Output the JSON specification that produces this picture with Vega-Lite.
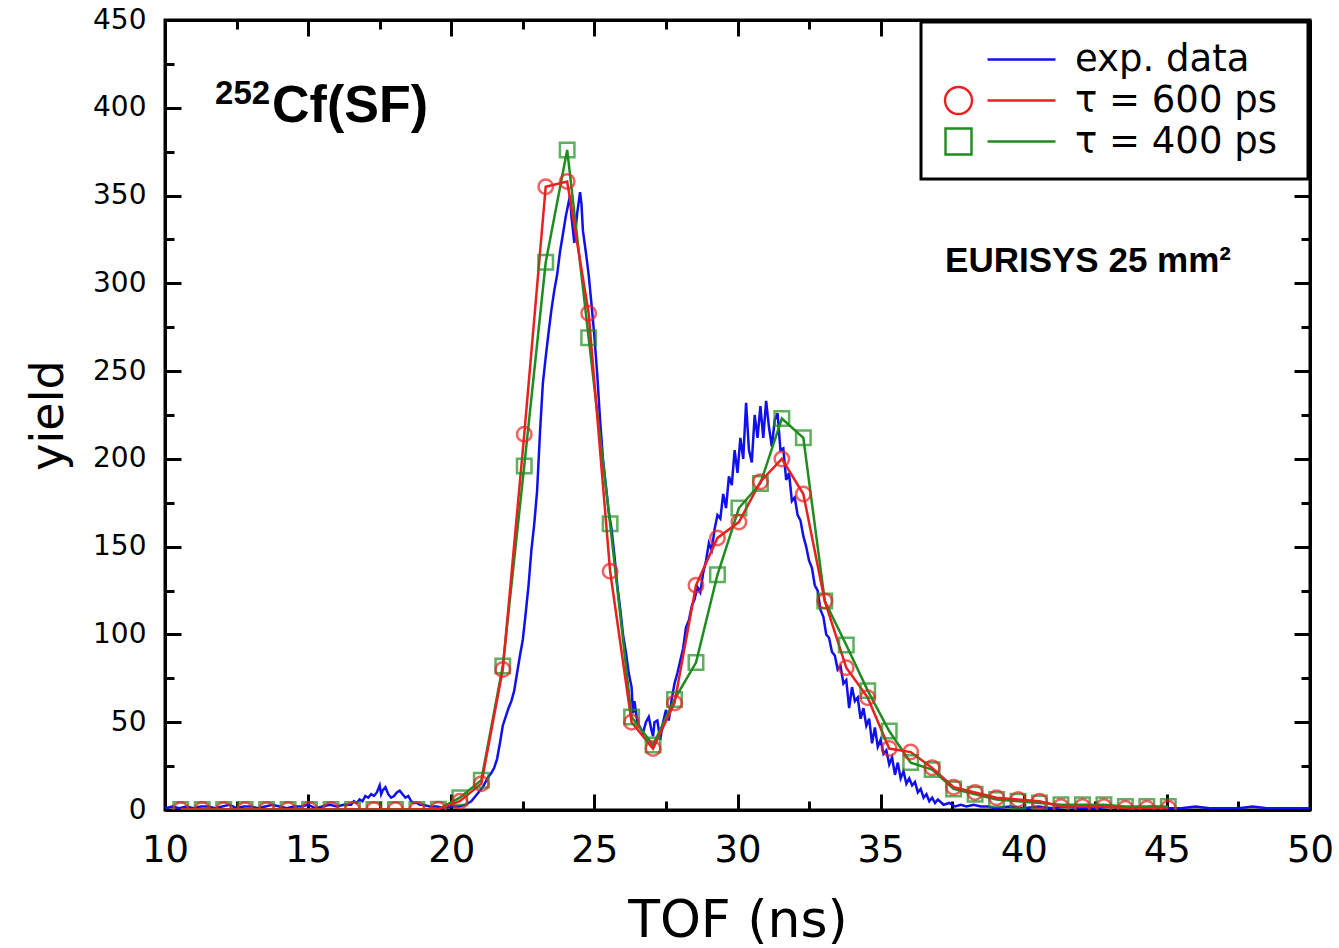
{
  "$schema": "https://vega.github.io/schema/vega-lite/v6.json",
  "width": 1145,
  "height": 790,
  "autosize": {"type": "none"},
  "padding": {"left": 165, "top": 20, "right": 29, "bottom": 138},
  "background": "white",
  "config": {"view": {"stroke": "black", "strokeWidth": 3}, "font": "DejaVu Sans"},
  "data": {"values": [
    {"s":"exp. data","t":10.0,"y":1},{"s":"exp. data","t":10.25,"y":2},{"s":"exp. data","t":10.5,"y":1},{"s":"exp. data","t":10.75,"y":2},{"s":"exp. data","t":11.0,"y":1},{"s":"exp. data","t":11.25,"y":2},{"s":"exp. data","t":11.5,"y":2},{"s":"exp. data","t":11.75,"y":1},{"s":"exp. data","t":12.0,"y":2},{"s":"exp. data","t":12.25,"y":3},{"s":"exp. data","t":12.5,"y":1},{"s":"exp. data","t":12.75,"y":2},{"s":"exp. data","t":13.0,"y":2},{"s":"exp. data","t":13.25,"y":1},{"s":"exp. data","t":13.5,"y":2},{"s":"exp. data","t":13.75,"y":3},{"s":"exp. data","t":14.0,"y":2},{"s":"exp. data","t":14.25,"y":1},{"s":"exp. data","t":14.5,"y":2},{"s":"exp. data","t":14.75,"y":2},{"s":"exp. data","t":15.0,"y":3},{"s":"exp. data","t":15.25,"y":1},{"s":"exp. data","t":15.5,"y":2},{"s":"exp. data","t":15.75,"y":3},{"s":"exp. data","t":16.0,"y":2},{"s":"exp. data","t":16.25,"y":3},{"s":"exp. data","t":16.5,"y":3},{"s":"exp. data","t":16.6,"y":5},{"s":"exp. data","t":16.7,"y":4},{"s":"exp. data","t":16.8,"y":6},{"s":"exp. data","t":16.9,"y":5},{"s":"exp. data","t":17.0,"y":8},{"s":"exp. data","t":17.1,"y":7},{"s":"exp. data","t":17.2,"y":9},{"s":"exp. data","t":17.3,"y":8},{"s":"exp. data","t":17.4,"y":10},{"s":"exp. data","t":17.5,"y":14},{"s":"exp. data","t":17.55,"y":9},{"s":"exp. data","t":17.6,"y":11},{"s":"exp. data","t":17.7,"y":13},{"s":"exp. data","t":17.8,"y":9},{"s":"exp. data","t":17.9,"y":7},{"s":"exp. data","t":18.0,"y":8},{"s":"exp. data","t":18.1,"y":10},{"s":"exp. data","t":18.2,"y":11},{"s":"exp. data","t":18.3,"y":9},{"s":"exp. data","t":18.4,"y":7},{"s":"exp. data","t":18.5,"y":8},{"s":"exp. data","t":18.6,"y":5},{"s":"exp. data","t":18.7,"y":4},{"s":"exp. data","t":18.8,"y":4},{"s":"exp. data","t":18.9,"y":3},{"s":"exp. data","t":19.0,"y":3},{"s":"exp. data","t":19.25,"y":2},{"s":"exp. data","t":19.5,"y":2},{"s":"exp. data","t":19.75,"y":1},{"s":"exp. data","t":20.0,"y":2},{"s":"exp. data","t":20.25,"y":2},{"s":"exp. data","t":20.5,"y":3},{"s":"exp. data","t":20.6,"y":4},{"s":"exp. data","t":20.7,"y":5},{"s":"exp. data","t":20.8,"y":7},{"s":"exp. data","t":20.9,"y":9},{"s":"exp. data","t":21.0,"y":11},{"s":"exp. data","t":21.1,"y":13},{"s":"exp. data","t":21.2,"y":16},{"s":"exp. data","t":21.3,"y":19},{"s":"exp. data","t":21.4,"y":21},{"s":"exp. data","t":21.5,"y":24},{"s":"exp. data","t":21.6,"y":29},{"s":"exp. data","t":21.7,"y":38},{"s":"exp. data","t":21.8,"y":48},{"s":"exp. data","t":21.9,"y":53},{"s":"exp. data","t":22.0,"y":58},{"s":"exp. data","t":22.1,"y":62},{"s":"exp. data","t":22.2,"y":68},{"s":"exp. data","t":22.3,"y":78},{"s":"exp. data","t":22.4,"y":88},{"s":"exp. data","t":22.5,"y":97},{"s":"exp. data","t":22.6,"y":112},{"s":"exp. data","t":22.7,"y":128},{"s":"exp. data","t":22.8,"y":148},{"s":"exp. data","t":22.9,"y":163},{"s":"exp. data","t":23.0,"y":182},{"s":"exp. data","t":23.1,"y":215},{"s":"exp. data","t":23.2,"y":243},{"s":"exp. data","t":23.3,"y":258},{"s":"exp. data","t":23.4,"y":272},{"s":"exp. data","t":23.5,"y":285},{"s":"exp. data","t":23.6,"y":296},{"s":"exp. data","t":23.7,"y":305},{"s":"exp. data","t":23.8,"y":318},{"s":"exp. data","t":23.9,"y":328},{"s":"exp. data","t":24.0,"y":338},{"s":"exp. data","t":24.1,"y":346},{"s":"exp. data","t":24.15,"y":350},{"s":"exp. data","t":24.2,"y":338},{"s":"exp. data","t":24.3,"y":323},{"s":"exp. data","t":24.4,"y":340},{"s":"exp. data","t":24.5,"y":352},{"s":"exp. data","t":24.55,"y":345},{"s":"exp. data","t":24.6,"y":330},{"s":"exp. data","t":24.7,"y":318},{"s":"exp. data","t":24.8,"y":305},{"s":"exp. data","t":24.9,"y":288},{"s":"exp. data","t":25.0,"y":270},{"s":"exp. data","t":25.1,"y":248},{"s":"exp. data","t":25.2,"y":222},{"s":"exp. data","t":25.3,"y":200},{"s":"exp. data","t":25.4,"y":185},{"s":"exp. data","t":25.5,"y":170},{"s":"exp. data","t":25.6,"y":160},{"s":"exp. data","t":25.7,"y":145},{"s":"exp. data","t":25.8,"y":128},{"s":"exp. data","t":25.9,"y":115},{"s":"exp. data","t":26.0,"y":100},{"s":"exp. data","t":26.1,"y":90},{"s":"exp. data","t":26.2,"y":78},{"s":"exp. data","t":26.3,"y":70},{"s":"exp. data","t":26.35,"y":55},{"s":"exp. data","t":26.4,"y":62},{"s":"exp. data","t":26.5,"y":50},{"s":"exp. data","t":26.6,"y":47},{"s":"exp. data","t":26.7,"y":44},{"s":"exp. data","t":26.8,"y":50},{"s":"exp. data","t":26.9,"y":53},{"s":"exp. data","t":27.0,"y":45},{"s":"exp. data","t":27.05,"y":42},{"s":"exp. data","t":27.1,"y":50},{"s":"exp. data","t":27.2,"y":51},{"s":"exp. data","t":27.3,"y":40},{"s":"exp. data","t":27.4,"y":50},{"s":"exp. data","t":27.5,"y":57},{"s":"exp. data","t":27.6,"y":51},{"s":"exp. data","t":27.7,"y":63},{"s":"exp. data","t":27.8,"y":72},{"s":"exp. data","t":27.9,"y":78},{"s":"exp. data","t":28.0,"y":85},{"s":"exp. data","t":28.1,"y":92},{"s":"exp. data","t":28.2,"y":104},{"s":"exp. data","t":28.3,"y":108},{"s":"exp. data","t":28.4,"y":116},{"s":"exp. data","t":28.5,"y":120},{"s":"exp. data","t":28.6,"y":127},{"s":"exp. data","t":28.7,"y":124},{"s":"exp. data","t":28.8,"y":135},{"s":"exp. data","t":28.9,"y":142},{"s":"exp. data","t":29.0,"y":152},{"s":"exp. data","t":29.1,"y":148},{"s":"exp. data","t":29.2,"y":160},{"s":"exp. data","t":29.3,"y":168},{"s":"exp. data","t":29.4,"y":166},{"s":"exp. data","t":29.5,"y":180},{"s":"exp. data","t":29.6,"y":172},{"s":"exp. data","t":29.7,"y":190},{"s":"exp. data","t":29.8,"y":185},{"s":"exp. data","t":29.9,"y":205},{"s":"exp. data","t":30.0,"y":192},{"s":"exp. data","t":30.1,"y":212},{"s":"exp. data","t":30.2,"y":200},{"s":"exp. data","t":30.3,"y":232},{"s":"exp. data","t":30.4,"y":205},{"s":"exp. data","t":30.5,"y":198},{"s":"exp. data","t":30.6,"y":225},{"s":"exp. data","t":30.7,"y":212},{"s":"exp. data","t":30.8,"y":230},{"s":"exp. data","t":30.9,"y":212},{"s":"exp. data","t":31.0,"y":233},{"s":"exp. data","t":31.1,"y":218},{"s":"exp. data","t":31.2,"y":207},{"s":"exp. data","t":31.3,"y":222},{"s":"exp. data","t":31.4,"y":226},{"s":"exp. data","t":31.5,"y":205},{"s":"exp. data","t":31.6,"y":206},{"s":"exp. data","t":31.7,"y":188},{"s":"exp. data","t":31.8,"y":192},{"s":"exp. data","t":31.9,"y":176},{"s":"exp. data","t":32.0,"y":178},{"s":"exp. data","t":32.1,"y":168},{"s":"exp. data","t":32.2,"y":165},{"s":"exp. data","t":32.3,"y":156},{"s":"exp. data","t":32.4,"y":150},{"s":"exp. data","t":32.5,"y":142},{"s":"exp. data","t":32.6,"y":138},{"s":"exp. data","t":32.7,"y":128},{"s":"exp. data","t":32.8,"y":125},{"s":"exp. data","t":32.9,"y":114},{"s":"exp. data","t":33.0,"y":110},{"s":"exp. data","t":33.1,"y":100},{"s":"exp. data","t":33.2,"y":98},{"s":"exp. data","t":33.3,"y":90},{"s":"exp. data","t":33.4,"y":88},{"s":"exp. data","t":33.5,"y":80},{"s":"exp. data","t":33.6,"y":82},{"s":"exp. data","t":33.7,"y":72},{"s":"exp. data","t":33.8,"y":74},{"s":"exp. data","t":33.9,"y":58},{"s":"exp. data","t":34.0,"y":70},{"s":"exp. data","t":34.1,"y":62},{"s":"exp. data","t":34.2,"y":64},{"s":"exp. data","t":34.3,"y":52},{"s":"exp. data","t":34.4,"y":58},{"s":"exp. data","t":34.5,"y":48},{"s":"exp. data","t":34.6,"y":52},{"s":"exp. data","t":34.7,"y":38},{"s":"exp. data","t":34.8,"y":47},{"s":"exp. data","t":34.9,"y":36},{"s":"exp. data","t":35.0,"y":40},{"s":"exp. data","t":35.1,"y":32},{"s":"exp. data","t":35.2,"y":34},{"s":"exp. data","t":35.3,"y":26},{"s":"exp. data","t":35.4,"y":30},{"s":"exp. data","t":35.5,"y":20},{"s":"exp. data","t":35.6,"y":27},{"s":"exp. data","t":35.7,"y":18},{"s":"exp. data","t":35.8,"y":22},{"s":"exp. data","t":35.9,"y":15},{"s":"exp. data","t":36.0,"y":18},{"s":"exp. data","t":36.1,"y":14},{"s":"exp. data","t":36.2,"y":16},{"s":"exp. data","t":36.3,"y":10},{"s":"exp. data","t":36.4,"y":12},{"s":"exp. data","t":36.5,"y":7},{"s":"exp. data","t":36.6,"y":9},{"s":"exp. data","t":36.7,"y":5},{"s":"exp. data","t":36.8,"y":7},{"s":"exp. data","t":36.9,"y":4},{"s":"exp. data","t":37.0,"y":6},{"s":"exp. data","t":37.2,"y":3},{"s":"exp. data","t":37.4,"y":4},{"s":"exp. data","t":37.6,"y":2},{"s":"exp. data","t":37.8,"y":3},{"s":"exp. data","t":38.0,"y":2},{"s":"exp. data","t":38.25,"y":3},{"s":"exp. data","t":38.5,"y":2},{"s":"exp. data","t":38.75,"y":2},{"s":"exp. data","t":39.0,"y":1},{"s":"exp. data","t":39.5,"y":2},{"s":"exp. data","t":40.0,"y":1},{"s":"exp. data","t":40.5,"y":2},{"s":"exp. data","t":41.0,"y":1},{"s":"exp. data","t":41.5,"y":2},{"s":"exp. data","t":42.0,"y":1},{"s":"exp. data","t":42.5,"y":1},{"s":"exp. data","t":43.0,"y":2},{"s":"exp. data","t":43.5,"y":1},{"s":"exp. data","t":44.0,"y":1},{"s":"exp. data","t":44.5,"y":2},{"s":"exp. data","t":45.0,"y":1},{"s":"exp. data","t":45.5,"y":1},{"s":"exp. data","t":46.0,"y":2},{"s":"exp. data","t":46.5,"y":1},{"s":"exp. data","t":47.0,"y":1},{"s":"exp. data","t":47.5,"y":1},{"s":"exp. data","t":48.0,"y":2},{"s":"exp. data","t":48.5,"y":1},{"s":"exp. data","t":49.0,"y":1},{"s":"exp. data","t":49.5,"y":1},{"s":"exp. data","t":50.0,"y":1},
    {"s":"τ  = 400 ps","t":10.55,"y":0.3},{"s":"τ  = 400 ps","t":11.3,"y":0.3},{"s":"τ  = 400 ps","t":12.05,"y":0.3},{"s":"τ  = 400 ps","t":12.8,"y":0.3},{"s":"τ  = 400 ps","t":13.55,"y":0.3},{"s":"τ  = 400 ps","t":14.3,"y":0.3},{"s":"τ  = 400 ps","t":15.05,"y":0.3},{"s":"τ  = 400 ps","t":15.8,"y":0.3},{"s":"τ  = 400 ps","t":16.55,"y":0.3},{"s":"τ  = 400 ps","t":17.3,"y":0.3},{"s":"τ  = 400 ps","t":18.05,"y":0.3},{"s":"τ  = 400 ps","t":18.8,"y":0.3},{"s":"τ  = 400 ps","t":19.55,"y":0.5},{"s":"τ  = 400 ps","t":20.3,"y":7},{"s":"τ  = 400 ps","t":21.05,"y":17},{"s":"τ  = 400 ps","t":21.8,"y":82},{"s":"τ  = 400 ps","t":22.55,"y":196},{"s":"τ  = 400 ps","t":23.3,"y":312},{"s":"τ  = 400 ps","t":24.05,"y":376},{"s":"τ  = 400 ps","t":24.8,"y":269},{"s":"τ  = 400 ps","t":25.55,"y":163},{"s":"τ  = 400 ps","t":26.3,"y":53},{"s":"τ  = 400 ps","t":27.05,"y":37},{"s":"τ  = 400 ps","t":27.8,"y":63},{"s":"τ  = 400 ps","t":28.55,"y":84},{"s":"τ  = 400 ps","t":29.3,"y":134},{"s":"τ  = 400 ps","t":30.05,"y":172},{"s":"τ  = 400 ps","t":30.8,"y":186},{"s":"τ  = 400 ps","t":31.55,"y":223},{"s":"τ  = 400 ps","t":32.3,"y":212},{"s":"τ  = 400 ps","t":33.05,"y":119},{"s":"τ  = 400 ps","t":33.8,"y":94},{"s":"τ  = 400 ps","t":34.55,"y":68},{"s":"τ  = 400 ps","t":35.3,"y":45},{"s":"τ  = 400 ps","t":36.05,"y":27},{"s":"τ  = 400 ps","t":36.8,"y":23},{"s":"τ  = 400 ps","t":37.55,"y":12},{"s":"τ  = 400 ps","t":38.3,"y":9},{"s":"τ  = 400 ps","t":39.05,"y":6},{"s":"τ  = 400 ps","t":39.8,"y":5},{"s":"τ  = 400 ps","t":40.55,"y":4},{"s":"τ  = 400 ps","t":41.3,"y":3},{"s":"τ  = 400 ps","t":42.05,"y":3},{"s":"τ  = 400 ps","t":42.8,"y":3},{"s":"τ  = 400 ps","t":43.55,"y":2},{"s":"τ  = 400 ps","t":44.3,"y":2},{"s":"τ  = 400 ps","t":45.05,"y":2},
    {"s":"τ  = 600 ps","t":10.55,"y":0.3},{"s":"τ  = 600 ps","t":11.3,"y":0.3},{"s":"τ  = 600 ps","t":12.05,"y":0.3},{"s":"τ  = 600 ps","t":12.8,"y":0.3},{"s":"τ  = 600 ps","t":13.55,"y":0.3},{"s":"τ  = 600 ps","t":14.3,"y":0.3},{"s":"τ  = 600 ps","t":15.05,"y":0.3},{"s":"τ  = 600 ps","t":15.8,"y":0.3},{"s":"τ  = 600 ps","t":16.55,"y":0.3},{"s":"τ  = 600 ps","t":17.3,"y":0.3},{"s":"τ  = 600 ps","t":18.05,"y":0.3},{"s":"τ  = 600 ps","t":18.8,"y":0.3},{"s":"τ  = 600 ps","t":19.55,"y":0.5},{"s":"τ  = 600 ps","t":20.3,"y":5},{"s":"τ  = 600 ps","t":21.05,"y":15},{"s":"τ  = 600 ps","t":21.8,"y":80},{"s":"τ  = 600 ps","t":22.55,"y":214},{"s":"τ  = 600 ps","t":23.3,"y":355},{"s":"τ  = 600 ps","t":24.05,"y":358},{"s":"τ  = 600 ps","t":24.8,"y":283},{"s":"τ  = 600 ps","t":25.55,"y":136},{"s":"τ  = 600 ps","t":26.3,"y":50},{"s":"τ  = 600 ps","t":27.05,"y":35},{"s":"τ  = 600 ps","t":27.8,"y":61},{"s":"τ  = 600 ps","t":28.55,"y":128},{"s":"τ  = 600 ps","t":29.3,"y":155},{"s":"τ  = 600 ps","t":30.05,"y":164},{"s":"τ  = 600 ps","t":30.8,"y":187},{"s":"τ  = 600 ps","t":31.55,"y":200},{"s":"τ  = 600 ps","t":32.3,"y":180},{"s":"τ  = 600 ps","t":33.05,"y":119},{"s":"τ  = 600 ps","t":33.8,"y":81},{"s":"τ  = 600 ps","t":34.55,"y":64},{"s":"τ  = 600 ps","t":35.3,"y":35},{"s":"τ  = 600 ps","t":36.05,"y":33},{"s":"τ  = 600 ps","t":36.8,"y":24},{"s":"τ  = 600 ps","t":37.55,"y":13},{"s":"τ  = 600 ps","t":38.3,"y":10},{"s":"τ  = 600 ps","t":39.05,"y":7},{"s":"τ  = 600 ps","t":39.8,"y":6},{"s":"τ  = 600 ps","t":40.55,"y":5},{"s":"τ  = 600 ps","t":41.3,"y":2},{"s":"τ  = 600 ps","t":42.05,"y":2},{"s":"τ  = 600 ps","t":42.8,"y":2},{"s":"τ  = 600 ps","t":43.55,"y":1},{"s":"τ  = 600 ps","t":44.3,"y":1},{"s":"τ  = 600 ps","t":45.05,"y":1}
  ]},
  "resolve": {"axis": {"x": "independent", "y": "independent"}},
  "layer": [
    {
      "mark": {"type": "line", "strokeWidth": 2.5, "clip": true},
      "encoding": {
        "x": {"field": "t", "type": "quantitative",
          "scale": {"domain": [10, 50], "nice": false, "zero": false},
          "axis": {"orient": "bottom", "values": [10,12.5,15,17.5,20,22.5,25,27.5,30,32.5,35,37.5,40,42.5,45,47.5,50],
            "labelExpr": "datum.value % 5 === 0 ? datum.label : ''",
            "tickSize": {"condition": {"test": "datum.value % 5 === 0", "value": -16}, "value": -9},
            "tickWidth": 3, "tickColor": "black", "domainColor": "black", "domainWidth": 3,
            "labelFont": "DejaVu Sans", "labelFontSize": 37, "labelColor": "black", "labelPadding": 38,
            "labelFlush": false, "labelOverlap": false, "grid": false,
            "title": "TOF (ns)", "titleFont": "DejaVu Sans", "titleFontSize": 52, "titleFontWeight": "normal", "titleColor": "black", "titlePadding": 20}},
        "y": {"field": "y", "type": "quantitative",
          "scale": {"domain": [0, 450], "nice": false, "zero": false},
          "axis": {"orient": "left", "values": [0,25,50,75,100,125,150,175,200,225,250,275,300,325,350,375,400,425,450],
            "labelExpr": "datum.value % 50 === 0 ? datum.label : ''",
            "tickSize": {"condition": {"test": "datum.value % 50 === 0", "value": -16}, "value": -9},
            "tickWidth": 3, "tickColor": "black", "domainColor": "black", "domainWidth": 3,
            "labelFont": "DejaVu Sans", "labelFontSize": 28, "labelColor": "black", "labelPadding": 35,
            "labelFlush": false, "labelOverlap": false, "grid": false,
            "title": "yield", "titleFont": "DejaVu Sans", "titleFontSize": 46, "titleFontWeight": "normal", "titleColor": "black", "titlePadding": 20}},
        "color": {"field": "s", "type": "nominal",
          "scale": {"domain": ["exp. data", "τ  = 600 ps", "τ  = 400 ps"], "range": ["#1010ee", "#e82020", "#1e8c1e"]},
          "legend": {"orient": "top-right", "offset": 2, "title": null,
            "strokeColor": "black", "fillColor": "white", "padding": 19,
            "labelFont": "DejaVu Sans", "labelFontSize": 37, "labelColor": "black", "labelLimit": 500,
            "symbolSize": 400, "symbolStrokeWidth": 2, "labelOffset": 98, "rowPadding": 3,
            "encode": {
              "legend": {"update": {"strokeWidth": {"value": 3}}},
              "symbols": {"update": {
              "shape": {"signal": "datum.value === 'exp. data' ? 'M 2.9 0 L 9.7 0' : (datum.value === 'τ  = 600 ps' ? 'M -1.35 0 A 1.35 1.35 0 1 0 1.35 0 A 1.35 1.35 0 1 0 -1.35 0 M 2.9 0 L 9.7 0' : 'M -1.3 -1.3 L 1.3 -1.3 L 1.3 1.3 L -1.3 1.3 Z M 2.9 0 L 9.7 0')"},
              "fill": {"value": "transparent"},
              "stroke": {"scale": "color", "field": "value"},
              "strokeWidth": {"value": 2.4}}}}}}
      }
    },
    {
      "transform": [{"filter": "datum.s !== 'exp. data'"}],
      "mark": {"type": "point", "filled": false, "strokeWidth": 2.5, "size": 210, "clip": true},
      "encoding": {
        "x": {"field": "t", "type": "quantitative",
          "axis": {"orient": "top", "values": [10,12.5,15,17.5,20,22.5,25,27.5,30,32.5,35,37.5,40,42.5,45,47.5,50],
            "labels": false, "title": null, "grid": false,
            "tickSize": {"condition": {"test": "datum.value % 5 === 0", "value": -16}, "value": -9},
            "tickWidth": 3, "tickColor": "black", "domainColor": "black", "domainWidth": 3}},
        "y": {"field": "y", "type": "quantitative",
          "axis": {"orient": "right", "values": [0,25,50,75,100,125,150,175,200,225,250,275,300,325,350,375,400,425,450],
            "labels": false, "title": null, "grid": false,
            "tickSize": {"condition": {"test": "datum.value % 50 === 0", "value": -16}, "value": -9},
            "tickWidth": 3, "tickColor": "black", "domainColor": "black", "domainWidth": 3}},
        "color": {"field": "s", "type": "nominal"},
        "shape": {"field": "s", "type": "nominal",
          "scale": {"domain": ["τ  = 600 ps", "τ  = 400 ps"], "range": ["circle", "square"]}, "legend": null}
      }
    },
    {
      "data": {"values": [{"label": "252"}]},
      "mark": {"type": "text", "font": "Liberation Sans", "fontWeight": "bold", "fontSize": 33, "align": "left", "baseline": "alphabetic", "color": "black"},
      "encoding": {
        "x": {"datum": 11.75, "type": "quantitative", "axis": null},
        "y": {"datum": 402, "type": "quantitative", "axis": null},
        "text": {"field": "label"}
      }
    },
    {
      "data": {"values": [{"label": "Cf(SF)"}]},
      "mark": {"type": "text", "font": "Liberation Sans", "fontWeight": "bold", "fontSize": 52, "align": "left", "baseline": "alphabetic", "color": "black"},
      "encoding": {
        "x": {"datum": 13.74, "type": "quantitative", "axis": null},
        "y": {"datum": 391.9, "type": "quantitative", "axis": null},
        "text": {"field": "label"}
      }
    },
    {
      "data": {"values": [{"label": "EURISYS 25 mm²"}]},
      "mark": {"type": "text", "font": "Liberation Sans", "fontWeight": "bold", "fontSize": 35, "align": "left", "baseline": "alphabetic", "color": "black"},
      "encoding": {
        "x": {"datum": 37.25, "type": "quantitative", "axis": null},
        "y": {"datum": 306.4, "type": "quantitative", "axis": null},
        "text": {"field": "label"}
      }
    }
  ]
}
